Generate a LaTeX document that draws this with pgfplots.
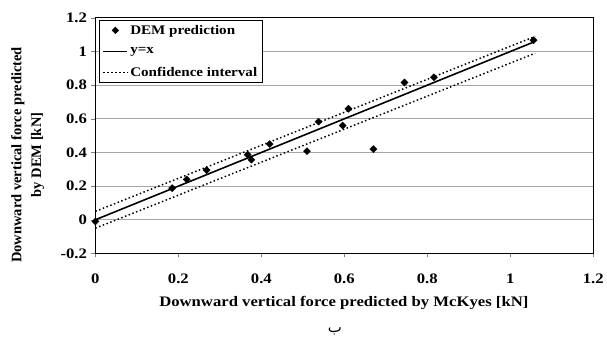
\documentclass[border=0pt]{standalone}
\usepackage{pgfplots}
\pgfplotsset{compat=1.18}
\usepackage{fontspec}
\setmainfont{Liberation Serif}
\newfontfamily\hfont[FakeStretch=1.15]{Liberation Serif}
\newfontfamily\arabicfont[Script=Arabic]{DejaVu Sans}
\TeXXeTstate=1
\begin{document}
\begin{tikzpicture}
\begin{axis}[
  scale only axis, width=501pt, height=237pt,
  xmin=0, xmax=1.2, ymin=-0.2, ymax=1.2,
  xtick={0,0.2,...,1.2}, ytick={-0.2,0,...,1.2},
  xticklabels={0,0.2,0.4,0.6,0.8,1,1.2},
  yticklabels={-0.2,0,0.2,0.4,0.6,0.8,1,1.2},
  /pgf/number format/assume math mode=true,
  tick label style={font=\hfont\fontsize{14.6}{16}\selectfont\bfseries},
  xticklabel style={yshift=-13pt},
  yticklabel style={xshift=-1pt},
  tick align=outside, major tick length=4pt,
  xtick pos=bottom, ytick pos=left,
  ymajorgrids, major grid style={gray!70, line width=0.9pt},
  axis line style={line width=1pt},
  xlabel={Downward vertical force predicted by McKyes [kN]},
  ylabel={Downward vertical force predicted\\by DEM [kN]},
  xlabel style={font=\hfont\fontsize{14.6}{18}\selectfont\bfseries, at={(axis description cs:0.499,-0.211)}, anchor=center},
  ylabel style={font=\fontsize{14.6}{20}\selectfont\bfseries, at={(axis description cs:-0.136,0.418)}, anchor=center, align=center},
  legend style={at={(axis description cs:0.008,0.992)}, anchor=north west,
    font=\hfont\fontsize{13.2}{15}\selectfont\bfseries, draw=black, line width=0.6pt,
    row sep=8pt, inner sep=3pt},
  legend cell align=left,
  legend image code/.code={\draw[#1] (0cm,0cm) -- (0.85cm,0cm);},
  clip=false,
]
\addplot[only marks, mark=square*, mark options={rotate=45}, mark size=2.5pt, black,
  legend image code/.code={\draw[only marks, mark=square*, mark options={rotate=45}, mark size=2.3pt, black] plot coordinates {(0.42cm,0cm)};}]
coordinates {
(0,-0.01) (0.185,0.188) (0.22,0.24) (0.268,0.295) (0.367,0.387) (0.376,0.357)
(0.42,0.45) (0.51,0.408) (0.538,0.583) (0.596,0.56) (0.61,0.66) (0.67,0.42)
(0.745,0.816) (0.816,0.847) (1.056,1.067)
};
\addlegendentry{DEM prediction}
\addplot[black, line width=1.6pt] coordinates {(0,0) (1.055,1.055)};
\addlegendentry{y=x}
\addplot[black, line width=1.5pt, dash pattern=on 1.5pt off 2.5pt] coordinates {(0,0.05) (1.06,1.09)};
\addlegendentry{Confidence interval}
\addplot[black, line width=1.5pt, dash pattern=on 1.5pt off 2.5pt, forget plot] coordinates {(0,-0.05) (1.06,0.99)};
\node[font=\arabicfont\fontsize{15}{16}\selectfont] at (axis description cs:0.481,-0.33) {\beginR ب\endR};
\end{axis}
\path[use as bounding box] (-96pt,-90pt) rectangle (511pt,255pt);
\end{tikzpicture}
\end{document}
